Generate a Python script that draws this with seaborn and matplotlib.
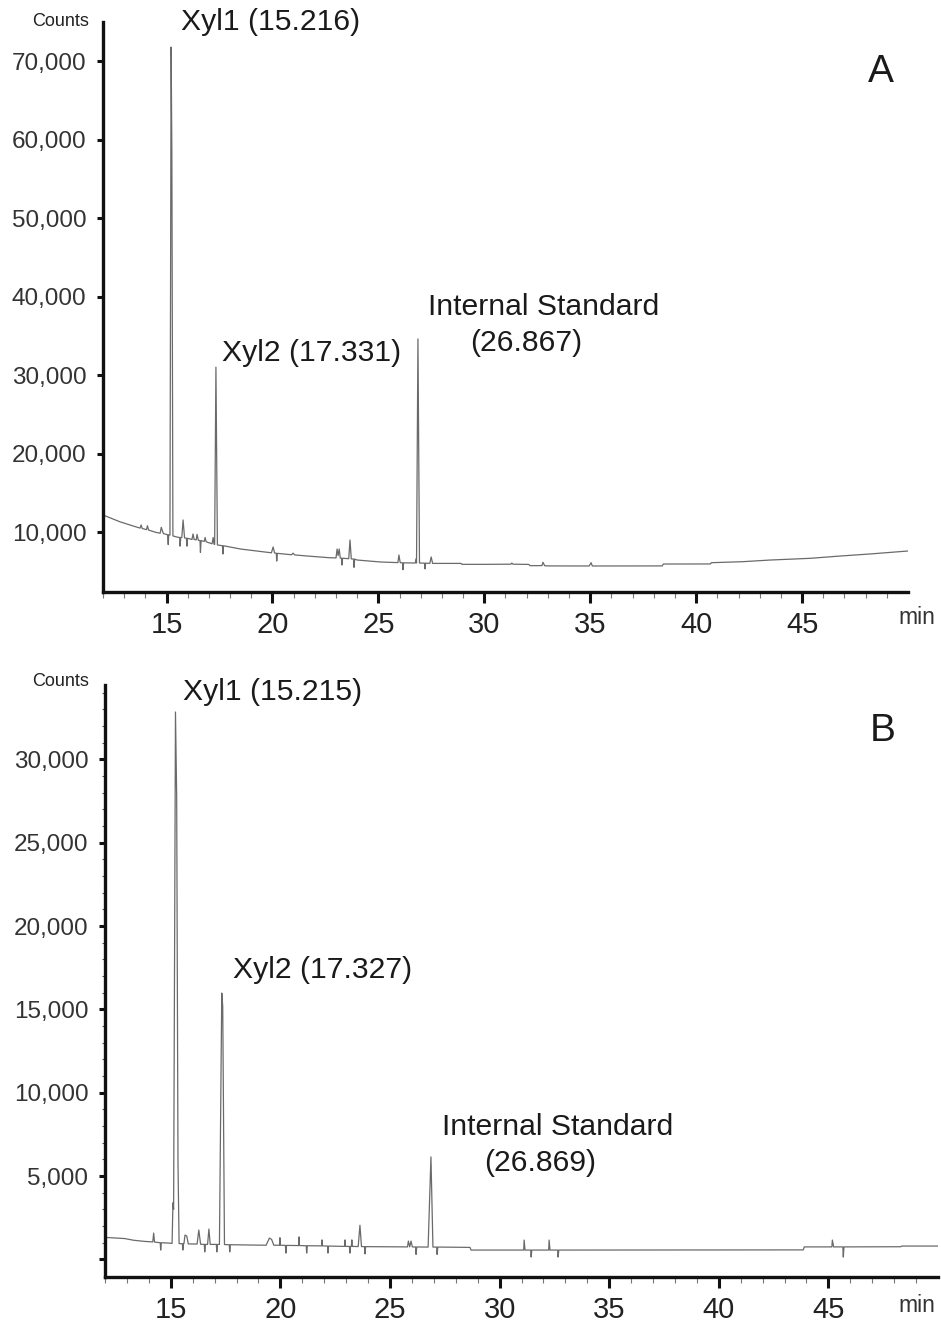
import numpy as np
import pandas as pd
import matplotlib.pyplot as plt
import seaborn as sns

# Chromatogram A: retention time (min) and counts
time_a = [12.0, 12.8, 13.5, 13.75, 13.8, 13.85, 14.05, 14.1, 14.15, 14.5,
          14.7, 14.75, 14.85, 15.05, 15.08, 15.1, 15.16, 15.216, 15.25, 15.30,
          15.5, 15.62, 15.64, 15.67, 15.72, 15.78, 15.85, 15.94, 15.96, 15.99,
          16.2, 16.25, 16.3, 16.4, 16.44, 16.5, 16.58, 16.6, 16.63, 16.78,
          16.82, 16.87, 17.15, 17.2, 17.24, 17.27, 17.331, 17.40, 17.64, 17.66,
          17.69, 18.5, 19.95, 20.03, 20.1, 20.18, 20.2, 20.23, 20.9, 20.97,
          21.05, 21.6, 22.7, 23.0, 23.05, 23.1, 23.15, 23.2, 23.26, 23.28,
          23.31, 23.6, 23.66, 23.72, 23.83, 23.85, 23.88, 24.0, 25.1, 25.92,
          25.97, 26.03, 26.14, 26.16, 26.19, 26.74, 26.78, 26.8, 26.867, 26.94,
          27.18, 27.2, 27.23, 27.43, 27.49, 27.56, 28.9, 28.95, 30.0, 31.25,
          31.3, 31.35, 32.1, 32.16, 32.72, 32.77, 32.85, 33.0, 34.95, 35.04,
          35.1, 38.4, 38.45, 40.67, 40.72, 42.2, 43.5, 45.4, 46.8, 48.2, 50.0]
counts_a = [12170, 11300, 10700, 10500, 10900, 10450, 10300, 10800, 10250, 9950,
            9850, 10600, 9800, 9650, 8400, 9650, 9600, 71780, 58300, 9500,
            9350, 9300, 8200, 9300, 9300, 11530, 9250, 9200, 8200, 9200,
            9050, 9750, 9050, 9000, 9700, 8950, 8900, 7400, 8900, 8800,
            9300, 8750, 8500, 9300, 8450, 8420, 31000, 8350, 8250, 7200,
            8250, 7830, 7350, 8090, 7320, 7300, 6300, 7280, 7100, 7300,
            7080, 6950, 6720, 6700, 7830, 7000, 7830, 6680, 6670, 5800,
            6660, 6600, 8980, 6580, 6550, 5500, 6550, 6430, 6180, 6100,
            7070, 6090, 6080, 5200, 6070, 6050, 6600, 6050, 34600, 6050,
            6030, 5300, 6030, 6010, 6820, 6000, 6000, 5880, 5880, 5900,
            6050, 5900, 5870, 5710, 5720, 6140, 5700, 5680, 5670, 6090,
            5670, 5680, 5920, 5930, 6090, 6220, 6430, 6650, 6940, 7200, 7580]

# Chromatogram B
time_b = [12.0, 12.9, 13.3, 13.8, 14.18, 14.22, 14.26, 14.52, 14.54, 14.57,
          14.9, 15.06, 15.10, 15.13, 15.215, 15.27, 15.33, 15.38, 15.53, 15.55,
          15.58, 15.6, 15.65, 15.73, 15.8, 16.2, 16.28, 16.36, 16.53, 16.55,
          16.58, 16.68, 16.74, 16.8, 17.08, 17.1, 17.13, 17.22, 17.327, 17.37,
          17.45, 17.67, 17.69, 17.72, 19.35, 19.5, 19.6, 19.7, 19.96, 19.98,
          20.0, 20.23, 20.25, 20.28, 20.83, 20.85, 20.87, 21.18, 21.2, 21.23,
          21.88, 21.9, 21.92, 22.15, 22.17, 22.2, 22.93, 22.95, 22.97, 23.15,
          23.17, 23.2, 23.24, 23.26, 23.28, 23.55, 23.63, 23.7, 23.84, 23.86,
          23.89, 25.8, 25.84, 25.9, 25.96, 26.02, 26.17, 26.19, 26.22, 26.74,
          26.869, 26.96, 27.13, 27.15, 27.18, 28.65, 28.7, 31.1, 31.12, 31.16,
          31.42, 31.44, 31.47, 32.24, 32.26, 32.3, 32.65, 32.67, 32.7, 43.85,
          43.9, 45.16, 45.18, 45.24, 45.66, 45.68, 45.71, 48.3, 48.35, 50.0]
counts_b = [1320, 1250, 1150, 1080, 1050, 1580, 1040, 1000, 560, 1000,
            980, 960, 3400, 3000, 32840, 27700, 5760, 950, 940, 560,
            940, 940, 1460, 1400, 930, 920, 1760, 910, 900, 450,
            900, 900, 1820, 900, 900, 450, 900, 900, 15980, 15200,
            890, 880, 450, 880, 850, 1280, 1200, 850, 850, 1300,
            850, 840, 380, 840, 830, 1350, 830, 820, 380, 820,
            810, 1170, 810, 800, 380, 800, 780, 1170, 780, 780,
            380, 780, 780, 1170, 780, 770, 2050, 770, 765, 330,
            765, 750, 1100, 750, 1100, 750, 745, 300, 745, 740,
            6150, 740, 740, 300, 740, 720, 560, 560, 1160, 560,
            560, 140, 560, 560, 1160, 560, 560, 140, 560, 570,
            750, 750, 1160, 750, 750, 140, 750, 760, 800, 800]

yticks_a = [10000, 20000, 30000, 40000, 50000, 60000, 70000]
yticks_b = [0, 5000, 10000, 15000, 20000, 25000, 30000]
xticks = [15, 20, 25, 30, 35, 40, 45]

sns.set_theme(style='ticks')
plt.rcParams['font.family'] = ['Liberation Sans', 'DejaVu Sans']

W, H = 941, 1325
fig = plt.figure(figsize=(W / 100, H / 100), dpi=100)
ax_a = fig.add_axes([103 / W, 1 - 592 / H, 805 / W, 570 / H])
ax_b = fig.add_axes([105 / W, 1 - 1277 / H, 833 / W, 592 / H])

df_a = pd.DataFrame({'time': time_a, 'counts': counts_a})
df_b = pd.DataFrame({'time': time_b, 'counts': counts_b})

for ax, df in [(ax_a, df_a), (ax_b, df_b)]:
    sns.lineplot(data=df, x='time', y='counts', ax=ax, color='#6a6a6a',
                 linewidth=0.9, sort=False, estimator=None)
    ax.set_xlim(12, 50)
    ax.set_xlabel('')
    ax.set_ylabel('')
    sns.despine(ax=ax)
    for side in ('left', 'bottom'):
        ax.spines[side].set_linewidth(2.4)
        ax.spines[side].set_color('#111111')
    ax.set_xticks(xticks)
    ax.set_xticklabels([str(t) for t in xticks])
    ax.set_xticks(np.arange(12, 50, 1), minor=True)
    ax.tick_params(axis='x', which='major', length=8, width=2.2, color='#111111',
                   labelsize=21, labelcolor='#222222', pad=6)
    ax.tick_params(axis='x', which='minor', length=4, width=0.8, color='#777777')
    ax.tick_params(axis='y', which='major', length=4, width=2.2, color='#111111',
                   labelsize=17.5, labelcolor='#333333', pad=8)

ax_a.set_ylim(2357, 74970)
ax_a.set_yticks(yticks_a)
ax_a.set_yticklabels([f'{v:,}' for v in yticks_a])

ax_b.set_ylim(-1056, 34460)
ax_b.set_yticks(yticks_b)
ax_b.set_yticklabels([f'{v:,}' if v > 0 else '' for v in yticks_b])
ax_b.set_yticks(np.arange(0, 34001, 1000), minor=True)
ax_b.tick_params(axis='y', which='minor', length=2, width=0.8, color='#555555')

lab = dict(fontsize=21.7, color='#1a1a1a', va='center', ha='left')
ax_a.text(15.68, 74970, 'Xyl1 (15.216)', **lab)
ax_a.text(17.62, 32800, 'Xyl2 (17.331)', **lab)
ax_a.text(27.34, 38670, 'Internal Standard', **lab)
ax_a.text(29.33, 34080, '(26.867)', **lab)
ax_a.text(0.966, 0.912, 'A', transform=ax_a.transAxes, fontsize=28,
          ha='center', va='center', color='#1a1a1a')

ax_b.text(15.56, 34040, 'Xyl1 (15.215)', **lab)
ax_b.text(17.84, 17360, 'Xyl2 (17.327)', **lab)
ax_b.text(27.39, 7940, 'Internal Standard', **lab)
ax_b.text(29.31, 5780, '(26.869)', **lab)
ax_b.text(0.933, 0.922, 'B', transform=ax_b.transAxes, fontsize=28,
          ha='center', va='center', color='#1a1a1a')

for y_px in (22, 682):
    fig.text(89 / W, 1 - y_px / H, 'Counts', fontsize=13, color='#222222',
             ha='right', va='center')
for y_px in (617, 1305):
    fig.text(917 / W, 1 - y_px / H, 'min', fontsize=16.5, color='#333333',
             ha='center', va='center')

fig.savefig('out.png', dpi=100, facecolor='white')
